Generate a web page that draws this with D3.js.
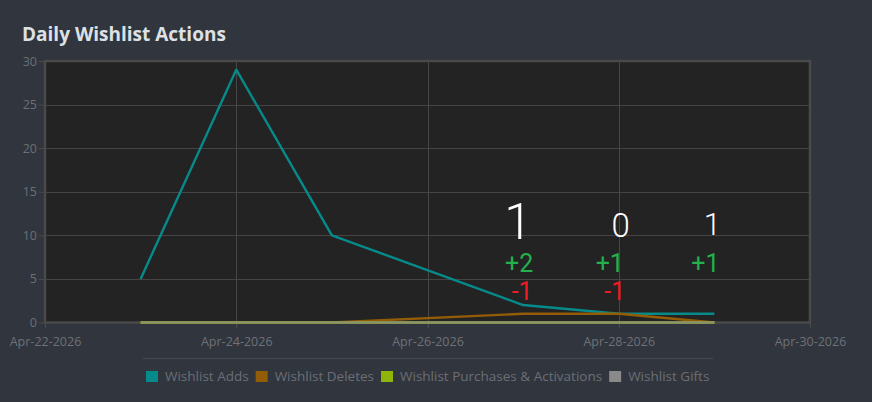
<!DOCTYPE html>
<html>
<head>
<meta charset="utf-8">
<script src="https://cdn.jsdelivr.net/npm/d3@7"></script>
<style>
  html, body { margin: 0; padding: 0; background: #31353e; }
  svg { display: block; }
</style>
</head>
<body>
<svg id="chart" width="872" height="402"></svg>
<script>
// ---- data ----
const dates = ["2026-04-23", "2026-04-24", "2026-04-25", "2026-04-27", "2026-04-28", "2026-04-29"];
const wishlistAdds = [5, 29, 10, 2, 1, 1];
const wishlistDeletes = [0, 0, 0, 1, 1, 0];
const wishlistPurchases = [0, 0, 0, 0, 0, 0];
const wishlistGifts = [0, 0, 0, 0, 0, 0];
const seriesNames = ["Wishlist Adds", "Wishlist Deletes", "Wishlist Purchases & Activations", "Wishlist Gifts"];
const seriesColors = ["#068a8a", "#935c06", "#8fb50a", "#8a8a8a"];
const xTickDates = ["2026-04-22", "2026-04-24", "2026-04-26", "2026-04-28", "2026-04-30"];
const yTicks = [0, 5, 10, 15, 20, 25, 30];
// hand-drawn annotations
const noteDates = ["2026-04-27", "2026-04-28", "2026-04-29"];
const noteTotals = ["1", "0", "1"];
const noteAdds = ["+2", "+1", "+1"];
const noteDeletes = ["-1", "-1", ""];

const parse = d3.timeParse("%Y-%m-%d");
const svg = d3.select("#chart");
const W = 872, H = 402;
const m = { left: 45, right: 62, top: 61, bottom: 80 };

const x = d3.scaleTime()
  .domain([parse(xTickDates[0]), parse(xTickDates[xTickDates.length - 1])])
  .range([m.left, W - m.right]);
const y = d3.scaleLinear().domain([0, 30]).range([322.5, m.top]);

// title
svg.append("text")
  .attr("x", 22).attr("y", 41)
  .attr("fill", "#dde1e5")
  .attr("font-family", "'Open Sans', sans-serif")
  .attr("font-weight", 700)
  .attr("font-size", 19)
  .text("Daily Wishlist Actions");

// plot background
const px0 = x.range()[0], px1 = x.range()[1], py0 = y.range()[1], py1 = y.range()[0];
svg.append("rect")
  .attr("x", px0).attr("y", py0)
  .attr("width", px1 - px0).attr("height", py1 - py0)
  .attr("fill", "#232323");

// grid
const grid = svg.append("g");
grid.selectAll("line.h").data(yTicks.slice(1, -1)).join("line")
  .attr("x1", px0).attr("x2", px1)
  .attr("y1", d => Math.round(y(d)) + 0.5).attr("y2", d => Math.round(y(d)) + 0.5)
  .attr("stroke", "#444").attr("stroke-width", 1);
grid.selectAll("line.v").data(xTickDates.slice(1, -1)).join("line")
  .attr("x1", d => Math.round(x(parse(d))) + 0.5).attr("x2", d => Math.round(x(parse(d))) + 0.5)
  .attr("y1", py0).attr("y2", py1 + 6)
  .attr("stroke", "#474747").attr("stroke-width", 1);

// frame
svg.append("rect")
  .attr("x", px0).attr("y", py0)
  .attr("width", px1 - px0).attr("height", py1 - py0)
  .attr("fill", "none").attr("stroke", "#4a4a4a").attr("stroke-width", 2.5);

// y axis
const yAxis = d3.axisLeft(y).tickValues(yTicks).tickSize(6).tickPadding(2);
const gy = svg.append("g").attr("transform", `translate(${px0},0)`).call(yAxis);
gy.select(".domain").remove();
gy.selectAll(".tick line").attr("stroke", "#4a4a4a");
gy.selectAll(".tick text")
  .attr("fill", "#6c7075")
  .attr("font-family", "'Open Sans', sans-serif")
  .attr("font-size", 12.5);

// x axis
const xAxis = d3.axisBottom(x)
  .tickValues(xTickDates.map(parse))
  .tickFormat(d3.timeFormat("%b-%d-%Y"))
  .tickSize(6).tickPadding(9);
const gx = svg.append("g").attr("transform", `translate(0,${py1})`).call(xAxis);
gx.select(".domain").remove();
gx.selectAll(".tick line").attr("stroke", "#4a4a4a");
gx.selectAll(".tick text")
  .attr("fill", "#6e7277")
  .attr("font-family", "'Open Sans', sans-serif")
  .attr("font-size", 12.5);

// lines (gifts drawn last, on top)
const allSeries = [wishlistAdds, wishlistDeletes, wishlistPurchases, wishlistGifts];
const line = d3.line()
  .x((d, i) => x(parse(dates[i])))
  .y(d => y(d));
[0, 1, 2, 3].forEach(k => {
  svg.append("path")
    .datum(allSeries[k])
    .attr("fill", "none")
    .attr("stroke", seriesColors[k])
    .attr("stroke-width", 2.4)
    .attr("stroke-linejoin", "round")
    .attr("opacity", k === 3 ? 0.75 : 1)
    .attr("d", line);
});

// annotations
const ann = svg.append("g").attr("font-family", "Roboto, 'Open Sans', sans-serif");
const totalSizes = [50, 33, 31];
const totalDx = [-5, 2, -2];
const totalY = [239, 237, 235];
ann.selectAll("text.tot").data(noteTotals).join("text")
  .attr("x", (d, i) => x(parse(noteDates[i])) + totalDx[i])
  .attr("y", (d, i) => totalY[i])
  .attr("text-anchor", "middle")
  .attr("fill", "#ffffff")
  .attr("font-weight", 300)
  .attr("font-size", (d, i) => totalSizes[i])
  .text(d => d);
const addDx = [-4, -9, -9];
ann.selectAll("text.add").data(noteAdds).join("text")
  .attr("x", (d, i) => x(parse(noteDates[i])) + addDx[i])
  .attr("y", 272)
  .attr("text-anchor", "middle")
  .attr("fill", "#22b14c")
  .attr("font-size", 25)
  .text(d => d);
const delDx = [-1, -4];
ann.selectAll("text.del").data(noteDeletes.filter(d => d)).join("text")
  .attr("x", (d, i) => x(parse(noteDates[i])) + delDx[i])
  .attr("y", 300)
  .attr("text-anchor", "middle")
  .attr("fill", "#ed1c24")
  .attr("font-size", 25)
  .text(d => d);

// legend
svg.append("line")
  .attr("x1", 143).attr("x2", 713)
  .attr("y1", 358.5).attr("y2", 358.5)
  .attr("stroke", "#454a54").attr("stroke-width", 1);
const lg = svg.append("g");
let lx = 146;
seriesNames.forEach((name, i) => {
  lg.append("rect")
    .attr("x", lx).attr("y", 371)
    .attr("width", 12).attr("height", 11)
    .attr("fill", seriesColors[i]);
  const t = lg.append("text")
    .attr("x", lx + 19).attr("y", 381)
    .attr("fill", "#6b6f75")
    .attr("font-family", "'Open Sans', sans-serif")
    .attr("font-size", 13.5)
    .text(name);
  lx += 19 + t.node().getComputedTextLength() + 7;
});
</script>
</body>
</html>
